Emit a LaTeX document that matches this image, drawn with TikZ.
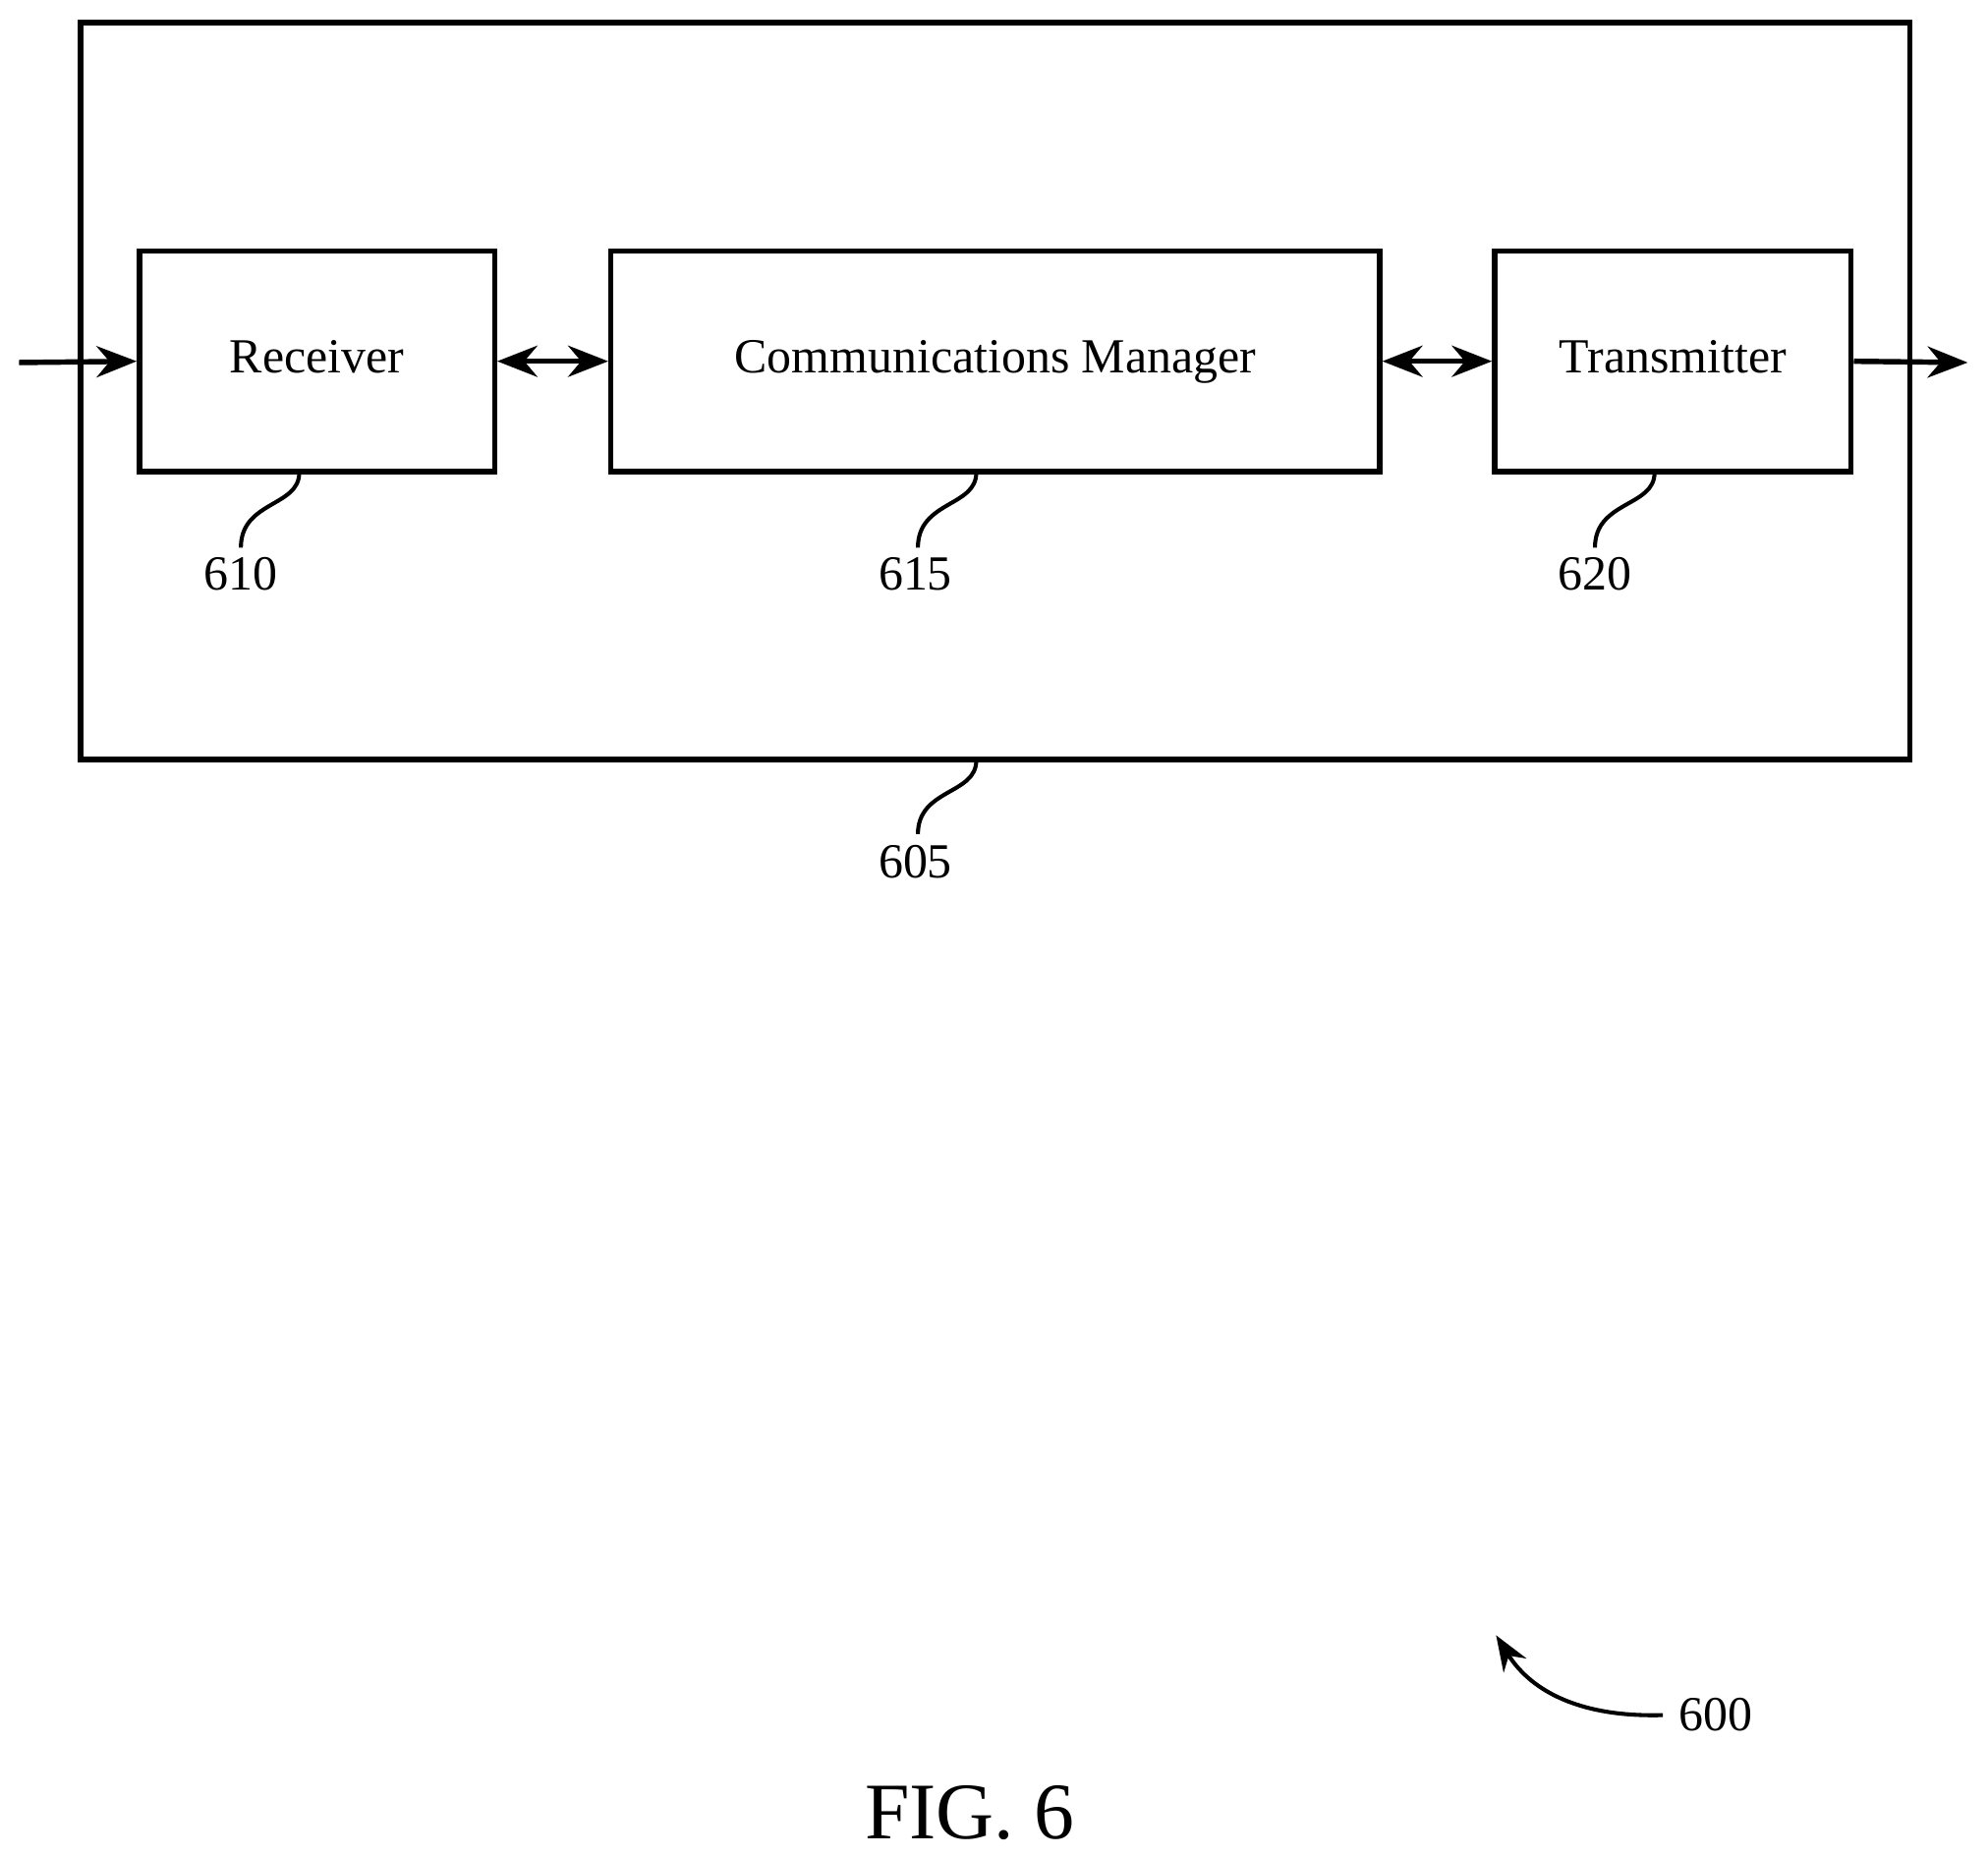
\documentclass[tikz,border=0pt]{standalone}
\usepackage{fontspec}
\setmainfont{Liberation Serif}
\usetikzlibrary{arrows.meta}
\begin{document}
\begin{tikzpicture}
[
x=0.01cm, y=-0.01cm,
block/.style={rectangle, draw=black, line width=1.2pt, inner sep=0pt, font=\fontsize{11}{13}\selectfont},
lbl/.style={font=\fontsize{11}{13}\selectfont},
leader/.style={line width=0.9pt},
conn/.style={line width=1.2pt, -{Stealth[length=9pt,width=7pt]}},
biconn/.style={line width=1.2pt, {Stealth[length=9pt,width=7pt]}-{Stealth[length=9pt,width=7pt]}}
]
\useasboundingbox (0,0) rectangle (1568,1464);
%Nodes
\node[block, minimum width=14.42cm, minimum height=5.81cm] (dev) at (785,308.5) {};
\node[block, minimum width=2.80cm, minimum height=1.74cm] (rx) at (250,285) {\strut Receiver};
\node[block, minimum width=6.06cm, minimum height=1.74cm] (cm) at (785,285) {\strut Communications Manager};
\node[block, minimum width=2.81cm, minimum height=1.74cm] (tx) at (1319.5,285) {\strut Transmitter};
\coordinate (in) at (15,286);
\coordinate (out) at (1552,286);
\node[lbl] (l610) at (190,453) {610};
\node[lbl] (l615) at (722,453) {615};
\node[lbl] (l620) at (1258,453) {620};
\node[lbl] (l605) at (722,680) {605};
\node[lbl] (l600) at (1353,1353) {600};
\node[font=\fontsize{18}{22}\selectfont] (fig) at (765,1430) {FIG. 6};

%Lines
\draw[conn] (in) -- (rx.west);
\draw[biconn] (rx.east) -- (cm.west);
\draw[biconn] (cm.east) -- (tx.west);
\draw[conn] (tx.east) -- (out);
\draw[leader] (236,373) .. controls (236,400) and (190,395) .. (190,432);
\draw[leader] (770,373) .. controls (770,400) and (724,395) .. (724,432);
\draw[leader] (1305,373) .. controls (1305,400) and (1258,395) .. (1258,432);
\draw[leader] (770,600) .. controls (770,627) and (724,622) .. (724,658);
\draw[leader, -{Stealth[length=8pt,width=6pt]}] (l600.west) .. controls (1240,1355) and (1205,1330) .. (1180,1290);
\end{tikzpicture}
\end{document}
